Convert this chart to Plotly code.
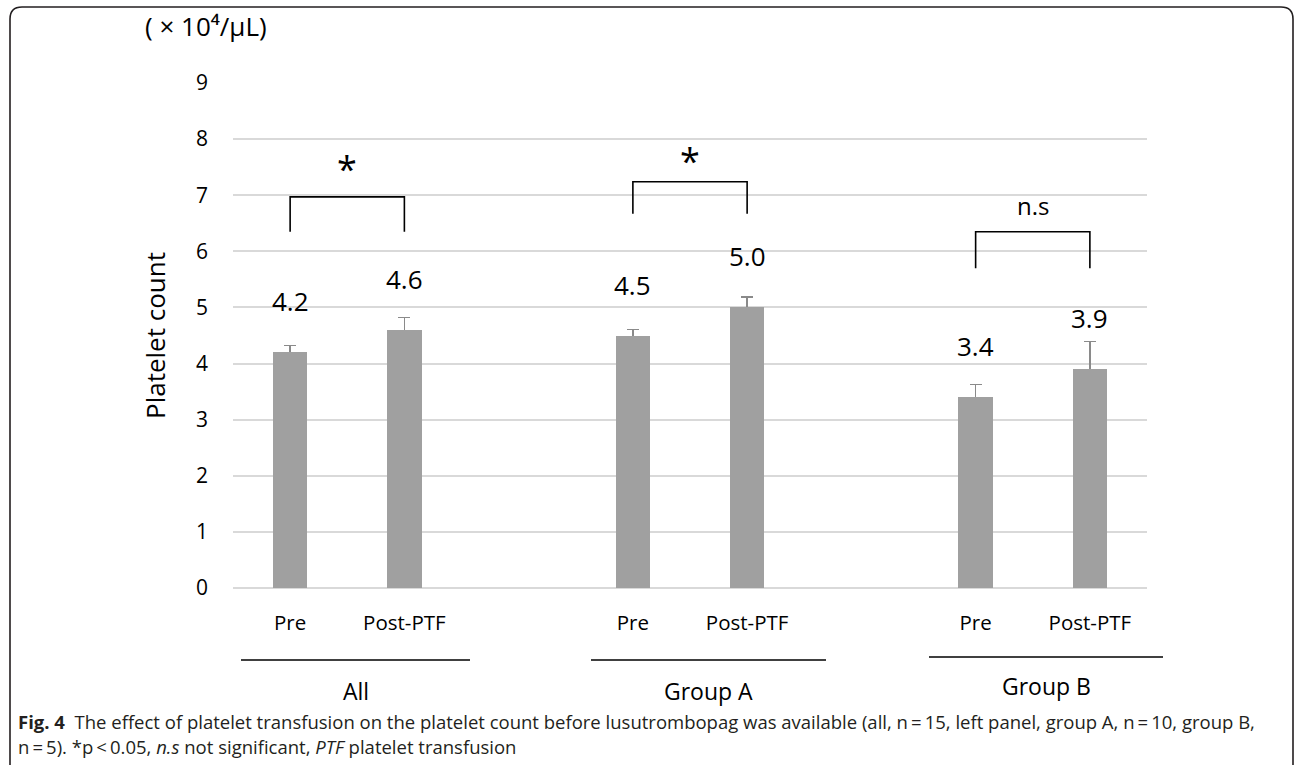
import plotly.graph_objects as go

# ---- data ----
categories = ["Pre", "Post-PTF", "Pre", "Post-PTF", "Pre", "Post-PTF"]
groups = ["All", "Group A", "Group B"]
platelet_means = [4.2, 4.6, 4.5, 5.0, 3.4, 3.9]
platelet_err = [0.12, 0.22, 0.11, 0.19, 0.23, 0.49]
value_labels = ["4.2", "4.6", "4.5", "5.0", "3.4", "3.9"]
significance = ["*", "*", "n.s"]
y_ticks = [0, 1, 2, 3, 4, 5, 6, 7, 8, 9]

# ---- layout geometry (pixels of the 1295x765 canvas) ----
W, H = 1295, 765
PL, PR, PT, PB = 233, 1147, 83, 588
slot_pos = [0, 1, 3, 4, 6, 7]


def px(x):
    return (x - PL) / (PR - PL)


def py(y):
    return (PB - y) / (PB - PT)


FONT = "Open Sans"
CAP_FONT = "Open Sans"
BAR_COLOR = "#a0a0a0"

fig = go.Figure()
# bars carrying the error bars (lower half of each error bar hidden by the overlay bar)
fig.add_trace(go.Bar(
    x=slot_pos, y=platelet_means, width=0.3,
    marker=dict(color=BAR_COLOR, line=dict(width=0)),
    error_y=dict(type="data", array=platelet_err, symmetric=False,
                 arrayminus=[0.5] * len(platelet_err),
                 color="#8a8a8a", thickness=1.6, width=6),
    hoverinfo="skip", showlegend=False,
))
fig.add_trace(go.Bar(
    x=slot_pos, y=platelet_means, width=0.3,
    marker=dict(color=BAR_COLOR, line=dict(width=0)),
    hoverinfo="skip", showlegend=False,
))


def ann(**kw):
    base = dict(showarrow=False, xanchor="center", yanchor="middle")
    base.update(kw)
    return base


annotations = []
# value labels above bars
for xpos, v, lab in zip(slot_pos, platelet_means, value_labels):
    annotations.append(ann(x=xpos, y=v, xref="x", yref="y", text=lab, yshift=51,
                           font=dict(family=FONT, size=26, color="#000")))

shapes = []
# significance brackets (data coords)
brackets = [(0, 1, 6.97, 6.35), (3, 4, 7.24, 6.67), (6, 7, 6.35, 5.70)]
label_y_px = [168, 160, 205]
for (x0, x1, ytop, ybot), sig, ly in zip(brackets, significance, label_y_px):
    shapes.append(dict(type="path", xref="x", yref="y",
                       path=f"M {x0},{ybot} L {x0},{ytop} L {x1},{ytop} L {x1},{ybot}",
                       line=dict(color="#000", width=1.6)))
    annotations.append(ann(x=(x0 + x1) / 2, y=py(ly), xref="x", yref="paper",
                           text=sig,
                           font=dict(family=FONT, size=36 if sig == "*" else 24,
                                     color="#000")))

# group underlines and labels
group_lines = [(241, 470, 660), (591, 826, 660), (929, 1163, 657)]
group_label_y = [691, 691, 686]
for (a, b, yy), g, gy in zip(group_lines, groups, group_label_y):
    shapes.append(dict(type="line", xref="paper", yref="paper",
                       x0=px(a), x1=px(b), y0=py(yy), y1=py(yy),
                       line=dict(color="#000", width=1.6)))
    annotations.append(ann(x=px((a + b) / 2), y=py(gy), xref="paper", yref="paper",
                           text=g, font=dict(family=FONT, size=23, color="#000")))

# unit label
annotations.append(ann(x=px(143), y=py(26), xref="paper", yref="paper",
                       xanchor="left", text="( × 10⁴/μL)",
                       font=dict(family=FONT, size=26, color="#000")))

# caption
annotations.append(ann(x=px(16), y=py(721), xref="paper", yref="paper",
                       xanchor="left", align="left",
                       text="<b>Fig. 4</b>  The effect of platelet transfusion on the platelet count before lusutrombopag was available (all, n\u2009=\u200915, left panel, group A, n\u2009=\u200910, group B,",
                       font=dict(family=CAP_FONT, size=18.5, color="#231f20")))
annotations.append(ann(x=px(16), y=py(746), xref="paper", yref="paper",
                       xanchor="left", align="left",
                       text="n\u2009=\u20095). *p\u2009<\u20090.05, <i>n.s</i> not significant, <i>PTF</i> platelet transfusion",
                       font=dict(family=CAP_FONT, size=18.5, color="#231f20")))

# rounded frame around figure
r = 12
fl, fr, ft, fb = 10, 1293, 7, 790
frame_path = (f"M {px(fl)},{py(fb)} L {px(fl)},{py(ft + r)} "
              f"Q {px(fl)},{py(ft)} {px(fl + r)},{py(ft)} "
              f"L {px(fr - r)},{py(ft)} Q {px(fr)},{py(ft)} {px(fr)},{py(ft + r)} "
              f"L {px(fr)},{py(fb)}")
shapes.append(dict(type="path", xref="paper", yref="paper", path=frame_path,
                   line=dict(color="#231f20", width=1.6)))

fig.update_layout(
    width=W, height=H,
    margin=dict(l=PL, r=W - PR, t=PT, b=H - PB, pad=0),
    paper_bgcolor="white", plot_bgcolor="white",
    barmode="overlay", bargap=0,
    xaxis=dict(range=[-0.5, 7.5], tickvals=slot_pos, ticktext=categories,
               showgrid=False, zeroline=False, showline=False, ticks="",
               ticklabelstandoff=20,
               tickfont=dict(family=FONT, size=20.5, color="#000"),
               fixedrange=True),
    yaxis=dict(range=[0, 9], tickvals=y_ticks, showgrid=True,
               gridcolor="#d9d9d9", gridwidth=1.6, zeroline=True,
               zerolinecolor="#d9d9d9", zerolinewidth=1.6, showline=False,
               ticks="", ticklabelstandoff=24,
               tickfont=dict(family=FONT, size=21, color="#000"),
               title=dict(text="Platelet count", standoff=22,
                          font=dict(family=FONT, size=26, color="#000")),
               fixedrange=True),
    annotations=annotations,
    shapes=shapes,
)

fig.write_html("out.html", config={"displayModeBar": False},
               post_script="document.body.style.margin='0';")
